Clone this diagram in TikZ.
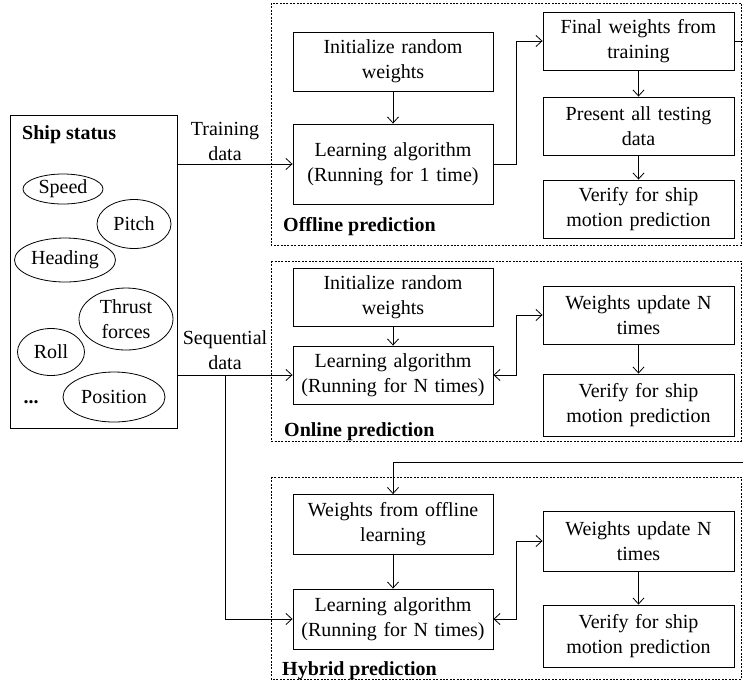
\documentclass[tikz,border=0pt]{standalone}
\usepackage{fontspec}
\setmainfont{Liberation Serif}
\usetikzlibrary{arrows.meta,shapes.geometric}
\begin{document}
\begin{tikzpicture}[x=1pt,y=-1pt,
  every node/.style={font=\fontsize{20}{25}\selectfont},
  box/.style={draw,line width=0.9pt,rectangle,inner sep=0pt,align=center,text width=#1},
  box/.default=185pt,
  elp/.style={draw,line width=0.8pt,ellipse,inner sep=0pt,align=center},
  grp/.style={draw,line width=0.8pt,dash pattern=on 2pt off 1.4pt},
  lbl/.style={font=\fontsize{20}{25}\selectfont\bfseries,anchor=west,inner sep=0pt},
  arr/.style={line width=0.8pt,-{Straight Barb[length=6pt,width=11pt]}},
  dbl/.style={line width=0.8pt,{Straight Barb[length=6pt,width=11pt]}-{Straight Barb[length=6pt,width=11pt]}}
]
\useasboundingbox (0,0) rectangle (743,681);

% group frames
\draw[grp] (271,3) rectangle (741.5,245);
\draw[grp] (271,261) rectangle (741.5,441);
\draw[grp] (271,477) rectangle (741.5,679);
\node[lbl] (offl) at (283,227) {Offline prediction};
\node[lbl] (onl) at (284,432) {Online prediction};
\node[lbl] (hyl) at (282,671) {Hybrid prediction};

% ship status
\node[draw,line width=0.9pt,minimum width=167pt,minimum height=313pt,inner sep=0pt] (ship) at (93.5,271.5) {};
\node[font=\fontsize{20}{25}\selectfont\bfseries,anchor=west,inner sep=0pt] (shipt) at (22,135) {Ship status};
\node[elp,minimum width=80pt,minimum height=30pt] (speed) at (63,189) {Speed};
\node[elp,minimum width=74pt,minimum height=49pt] (pitch) at (134,224) {Pitch};
\node[elp,minimum width=101pt,minimum height=44pt] (heading) at (65,260) {Heading};
\node[elp,minimum width=94pt,minimum height=62pt] (thrust) at (126,319) {Thrust\\forces};
\node[elp,minimum width=67pt,minimum height=47pt] (roll) at (51,352) {Roll};
\node[elp,minimum width=102pt,minimum height=50pt] (pos) at (114,397) {Position};
\node[inner sep=0pt,font=\fontsize{20}{25}\selectfont\bfseries] (dots) at (31,402) {...};

% offline
\node[box,minimum width=200pt,minimum height=59pt] (oinit) at (393,61.5) {Initialize random\\weights};
\node[box,minimum width=200pt,minimum height=80pt] (olearn) at (393,164) {Learning algorithm\\(Running for 1 time)};
\node[box,minimum width=191pt,minimum height=58pt] (ofinal) at (638.5,41) {Final weights from\\training};
\node[box,minimum width=191pt,minimum height=58pt] (otest) at (638.5,126) {Present all testing\\data};
\node[box,minimum width=191pt,minimum height=58pt] (over) at (638.5,209) {Verify for ship\\motion prediction};

% online
\node[box,minimum width=200pt,minimum height=58pt] (ninit) at (393,297) {Initialize random\\weights};
\node[box,minimum width=200pt,minimum height=58pt] (nlearn) at (393,375) {Learning algorithm\\(Running for N times)};
\node[box,minimum width=191pt,minimum height=58pt] (nupd) at (638.5,315) {Weights update N\\times};
\node[box,minimum width=191pt,minimum height=62pt] (nver) at (638.5,405) {Verify for ship\\motion prediction};

% hybrid
\node[box,minimum width=200pt,minimum height=60pt] (hinit) at (393,524.5) {Weights from offline\\learning};
\node[box,minimum width=200pt,minimum height=60pt] (hlearn) at (393,619) {Learning algorithm\\(Running for N times)};
\node[box,minimum width=191pt,minimum height=60pt] (hupd) at (638.5,541) {Weights update N\\times};
\node[box,minimum width=191pt,minimum height=62pt] (hver) at (638.5,636) {Verify for ship\\motion prediction};

% input labels
\node[align=center,inner sep=0pt] (tdata) at (225,141) {Training\\data};
\node[align=center,inner sep=0pt] (sdata) at (225,350) {Sequential\\data};

% connectors
\draw[arr] (ship.east |- olearn.west) -- (olearn.west);
\draw[arr] (ship.east |- nlearn.west) -- (nlearn.west);
\coordinate (br) at (225,375);
\draw[arr] (br) |- (hlearn.west);

\draw[arr] (oinit) -- (olearn);
\draw[arr] (olearn.east) -- ++(23,0) |- (ofinal.west);
\draw[arr] (ofinal) -- (otest);
\draw[arr] (otest) -- (over);
\coordinate (fb1) at (770,41);
\coordinate (fb2) at (770,462);
\draw[arr] (ofinal.east) -- (fb1) -- (fb2) -| (hinit.north);

\draw[arr] (ninit) -- (nlearn);
\draw[dbl] (nlearn.east) -- ++(23,0) |- (nupd.west);
\draw[arr] (nupd) -- (nver);

\draw[arr] (hinit) -- (hlearn);
\draw[dbl] (hlearn.east) -- ++(23,0) |- (hupd.west);
\draw[arr] (hupd) -- (hver);
\end{tikzpicture}
\end{document}
